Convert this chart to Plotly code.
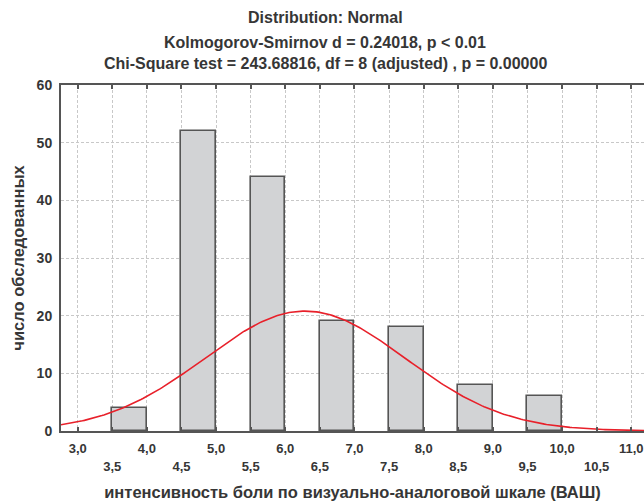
import numpy as np
import plotly.graph_objects as go

# Data: score values (upper bin edges), counts
vas_values = [4.0, 5.0, 6.0, 7.0, 8.0, 9.0, 10.0]
counts = [4, 52, 44, 19, 18, 8, 6]
bin_width = 0.5

int_ticks = [3.0, 4.0, 5.0, 6.0, 7.0, 8.0, 9.0, 10.0, 11.0]
int_labels = ["3,0", "4,0", "5,0", "6,0", "7,0", "8,0", "9,0", "10,0", "11,0"]
half_ticks = [3.5, 4.5, 5.5, 6.5, 7.5, 8.5, 9.5, 10.5]
half_labels = ["3,5", "4,5", "5,5", "6,5", "7,5", "8,5", "9,5", "10,5"]
y_ticks = [0, 10, 20, 30, 40, 50, 60]

title_lines = ["Distribution: Normal",
               "Kolmogorov-Smirnov d = 0.24018, p < 0.01",
               "Chi-Square test = 243.68816, df = 8 (adjusted) , p = 0.00000"]
x_title = "интенсивность боли по визуально-аналоговой шкале (ВАШ)"
y_title = "число обследованных"

x_range = [2.759, 11.184]

# Fitted normal curve from the data
vals = np.array(vas_values)
cnt = np.array(counts)
n = cnt.sum()
mean = (vals * cnt).sum() / n
sd = np.sqrt(((vals - mean) ** 2 * cnt).sum() / (n - 1))
xs = np.linspace(x_range[0], x_range[1], 300)
ys = n * bin_width * np.exp(-0.5 * ((xs - mean) / sd) ** 2) / (sd * np.sqrt(2 * np.pi))

centers = [v - bin_width / 2 for v in vas_values]

font_family = "Liberation Sans, Arial, sans-serif"
txt_color = "#363636"
axis_color = "#555555"

fig = go.Figure()
fig.add_trace(go.Bar(
    x=centers, y=counts, width=bin_width,
    marker=dict(color="#d2d3d5", line=dict(color=axis_color, width=1.6)),
    showlegend=False, hoverinfo="skip",
))
fig.add_trace(go.Scatter(
    x=xs, y=ys, mode="lines",
    line=dict(color="#e8202a", width=1.6),
    showlegend=False, hoverinfo="skip",
))
# invisible trace to activate the second x axis (half-unit labels)
fig.add_trace(go.Scatter(x=[x_range[0]], y=[0], xaxis="x2", mode="markers",
                         marker=dict(opacity=0), showlegend=False, hoverinfo="skip"))

# Title lines as annotations (paper coords: plot top 85px, bottom 431px)
title_y_px = [17, 42, 63]
plot_top, plot_bottom = 85, 431
for line, ypx in zip(title_lines, title_y_px):
    fig.add_annotation(
        text=line, xref="paper", yref="paper",
        x=(325 - 61) / (644 - 61), y=(plot_bottom - ypx) / (plot_bottom - plot_top),
        xanchor="center", yanchor="middle", showarrow=False,
        font=dict(size=16, weight="bold", color=txt_color, family=font_family),
    )

fig.update_layout(
    width=644, height=503,
    margin=dict(l=61, r=0, t=85, b=72),
    paper_bgcolor="white", plot_bgcolor="white",
    font=dict(family=font_family, color=txt_color),
    bargap=0,
    xaxis=dict(
        range=x_range,
        tickmode="array", tickvals=int_ticks, ticktext=int_labels,
        tickfont=dict(size=13, weight="bold", color=txt_color),
        ticks="inside", ticklen=4, tickwidth=2, tickcolor=axis_color,
        ticklabelstandoff=4,
        showline=True, linecolor=axis_color, linewidth=2, mirror="ticks",
        showgrid=True, gridcolor="#c8c8c8", griddash="3px,2px", gridwidth=1,
        zeroline=False,
        minor=dict(
            tickmode="array", tickvals=half_ticks,
            ticks="inside", ticklen=4, tickwidth=2, tickcolor=axis_color,
            showgrid=True, gridcolor="#c8c8c8", griddash="3px,2px", gridwidth=1,
        ),
    ),
    xaxis2=dict(
        overlaying="x", side="bottom", anchor="y", matches="x",
        range=x_range,
        tickmode="array", tickvals=half_ticks, ticktext=half_labels,
        tickfont=dict(size=13, weight="bold", color=txt_color),
        ticks="", ticklabelstandoff=26,
        showline=False, showgrid=False, zeroline=False,
        title=dict(text=x_title, font=dict(size=16.5, weight="bold", color=txt_color), standoff=13),
    ),
    yaxis=dict(
        range=[0, 60],
        tickmode="array", tickvals=y_ticks,
        tickfont=dict(size=14, weight="bold", color=txt_color),
        ticks="", ticklabelstandoff=4,
        showline=True, linecolor=axis_color, linewidth=2, mirror=False,
        showgrid=True, gridcolor="#c8c8c8", griddash="3px,2px", gridwidth=1,
        zeroline=False,
        title=dict(text=y_title, font=dict(size=16.5, weight="bold", color=txt_color), standoff=8),
    ),
)

fig.write_html("out.html")
